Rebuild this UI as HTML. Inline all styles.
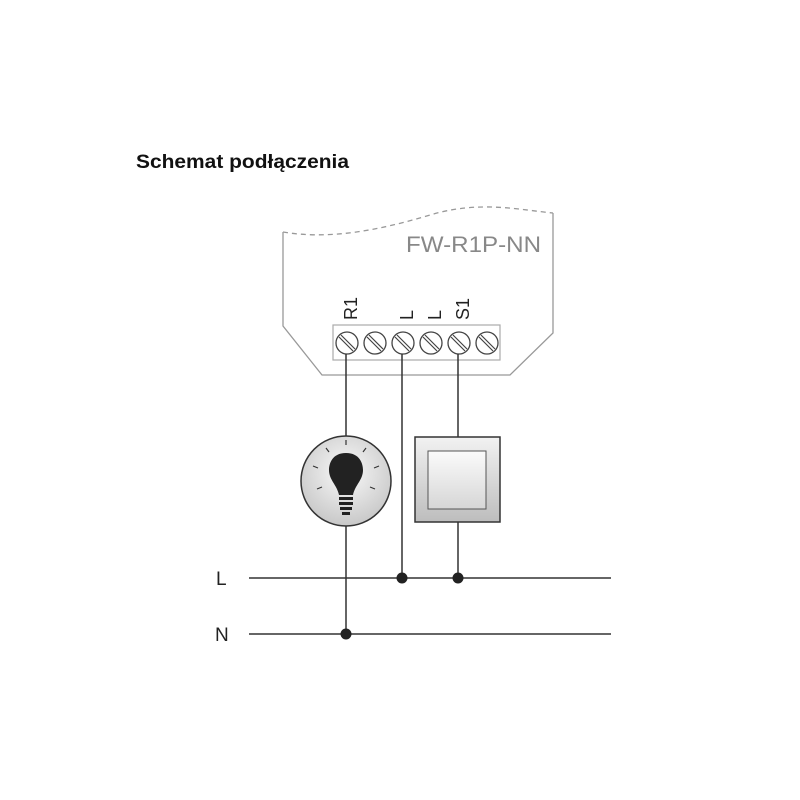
<!DOCTYPE html>
<html><head><meta charset="utf-8"><style>
html,body{margin:0;padding:0;background:#fff;width:800px;height:800px;overflow:hidden}
</style></head><body>
<svg width="800" height="800" viewBox="0 0 800 800" xmlns="http://www.w3.org/2000/svg">
<defs>
<radialGradient id="lg" cx="50%" cy="40%" r="60%"><stop offset="0" stop-color="#fafafa"/><stop offset="1" stop-color="#c8c8c8"/></radialGradient>
<linearGradient id="sg" x1="0" y1="0" x2="0" y2="1"><stop offset="0" stop-color="#f2f2f2"/><stop offset="1" stop-color="#bdbdbd"/></linearGradient>
<linearGradient id="sg2" x1="0" y1="0" x2="0" y2="1"><stop offset="0" stop-color="#fbfbfb"/><stop offset="1" stop-color="#d6d6d6"/></linearGradient>
</defs>
<text x="136" y="168" font-family="Liberation Sans, sans-serif" font-weight="bold" font-size="19" fill="#111" textLength="213" lengthAdjust="spacingAndGlyphs">Schemat podłączenia</text>
<path d="M283,232 L283,326 L322,375 L510,375 L553,333 L553,213" fill="none" stroke="#999" stroke-width="1.3"/>
<path d="M283,232 C330,240 380,230 430,215 C480,200 520,210 553,213" fill="none" stroke="#999" stroke-width="1.3" stroke-dasharray="5,4"/>
<text x="406" y="252" font-family="Liberation Sans, sans-serif" font-size="22" fill="#888" textLength="135" lengthAdjust="spacingAndGlyphs">FW-R1P-NN</text>
<g font-family="Liberation Sans, sans-serif" font-size="18" fill="#222">
<text transform="translate(357,320) rotate(-90)">R1</text>
<text transform="translate(413,320) rotate(-90)">L</text>
<text transform="translate(441,320) rotate(-90)">L</text>
<text transform="translate(469,320) rotate(-90)">S1</text>
</g>
<rect x="333" y="325" width="167" height="35" fill="#fff" stroke="#aaa" stroke-width="1.2"/>
<g stroke="#444" stroke-width="1.3" fill="#fff">
<circle cx="347" cy="343" r="11"/><circle cx="375" cy="343" r="11"/><circle cx="403" cy="343" r="11"/>
<circle cx="431" cy="343" r="11"/><circle cx="459" cy="343" r="11"/><circle cx="487" cy="343" r="11"/>
</g>
<g stroke="#444" stroke-width="1.2">
<path d="M339,337 L353,351 M341,335 L355,349"/><path d="M367,337 L381,351 M369,335 L383,349"/>
<path d="M395,337 L409,351 M397,335 L411,349"/><path d="M423,337 L437,351 M425,335 L439,349"/>
<path d="M451,337 L465,351 M453,335 L467,349"/><path d="M479,337 L493,351 M481,335 L495,349"/>
</g>
<g stroke="#333" stroke-width="1.5" fill="none">
<line x1="346" y1="354" x2="346" y2="634"/>
<line x1="402" y1="354" x2="402" y2="578"/>
<line x1="458" y1="354" x2="458" y2="437"/>
<line x1="458" y1="522" x2="458" y2="578"/>
<line x1="249" y1="578" x2="611" y2="578"/>
<line x1="249" y1="634" x2="611" y2="634"/>
</g>
<g fill="#222"><circle cx="402" cy="578" r="5.5"/><circle cx="458" cy="578" r="5.5"/><circle cx="346" cy="634" r="5.5"/></g>
<g font-family="Liberation Sans, sans-serif" font-size="19" fill="#222">
<text x="216" y="585">L</text><text x="215" y="641">N</text></g>
<circle cx="346" cy="481" r="45" fill="url(#lg)" stroke="#333" stroke-width="1.5"/>
<g stroke="#333" stroke-width="1.2">
<line x1="346" y1="440" x2="346" y2="445"/><line x1="326" y1="448" x2="329" y2="452"/><line x1="366" y1="448" x2="363" y2="452"/>
<line x1="313" y1="466" x2="318" y2="468"/><line x1="379" y1="466" x2="374" y2="468"/>
<line x1="317" y1="489" x2="322" y2="487"/><line x1="375" y1="489" x2="370" y2="487"/>
</g>
<path d="M346,453 C332,453 329,464 329,470 C329,480 337,485 339,495 L353,495 C355,485 363,480 363,470 C363,464 360,453 346,453 Z" fill="#222"/>
<g fill="#222"><rect x="339" y="497" width="14" height="3"/><rect x="339" y="502" width="14" height="3"/><rect x="340" y="507" width="12" height="3"/><rect x="342" y="512" width="8" height="3"/></g>
<rect x="415" y="437" width="85" height="85" fill="url(#sg)" stroke="#333" stroke-width="1.5"/>
<rect x="428" y="451" width="58" height="58" fill="url(#sg2)" stroke="#555" stroke-width="1"/>
</svg>
</body></html>
